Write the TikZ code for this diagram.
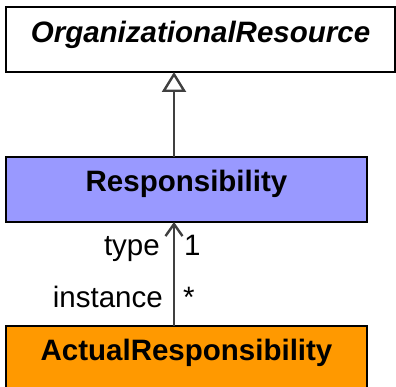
\documentclass[tikz,border=0pt]{standalone}
\usepackage{fontspec}
\setmainfont{Liberation Sans}
\usetikzlibrary{arrows.meta, positioning}
\definecolor{respblue}{HTML}{9999FF}
\definecolor{actorange}{HTML}{FF9900}
\definecolor{lineg}{HTML}{404040}
\tikzset{
  % blocks
  umlclass/.style  = {draw=black, line width=2pt, inner sep=0pt, outer sep=0pt},
  classname/.style = {font=\fontsize{29.5}{31}\selectfont\bfseries, anchor=base, inner sep=0pt},
  rolelabel/.style = {font=\fontsize{29.5}{31}\selectfont, inner sep=0pt},
  % arrows
  gen/.style   = {-{Triangle[open, length=20pt, width=24pt, fill=white]}, draw=lineg, line width=2.4pt},
  assoc/.style = {-{Straight Barb[length=12pt, width=17pt]}, draw=lineg, line width=2.4pt},
}
\begin{document}
\begin{tikzpicture}[x=1pt, y=-1pt]
\clip (0,0) rectangle (396,387);
\useasboundingbox (0,0) rectangle (396,387);

% ---------- Classes ----------
\node[umlclass, fill=white, minimum width=389pt, minimum height=65pt] (orgres) at (200.5,39.5) {};
\node[classname, font=\fontsize{29.5}{31}\selectfont\bfseries\itshape] (orgresname)
  at ([yshift=-36pt]orgres.north) {OrganizationalResource};

\node[umlclass, line width=2.6pt, fill=respblue, minimum width=361pt, minimum height=65pt] (resp) at (186.5,189.5) {};
\node[classname] (respname) at ([yshift=-35pt]resp.north) {Responsibility};

\node[umlclass, line width=2.6pt, fill=actorange, minimum width=361pt, minimum height=65pt] (actresp) at (186.5,358.5) {};
\node[classname] (actrespname) at ([yshift=-34pt]actresp.north) {ActualResponsibility};

% ---------- Generalization ----------
\draw[gen] ([xshift=-12.5pt]resp.north) -- ([xshift=-12.5pt]resp.north |- orgres.south);

% ---------- Association ----------
\draw[assoc] ([xshift=-12.5pt]actresp.north) -- ([xshift=-12.5pt]resp.south);

% ---------- Role labels ----------
\node[rolelabel, anchor=base east] (typelbl)  at (160,256) {type};
\node[rolelabel, anchor=base west] (typemult) at (184,256) {1};
\node[rolelabel, anchor=base east] (instlbl)  at (163,307) {instance};
\node[rolelabel, anchor=base west] (instmult) at (183,307) {*};

\end{tikzpicture}
\end{document}
